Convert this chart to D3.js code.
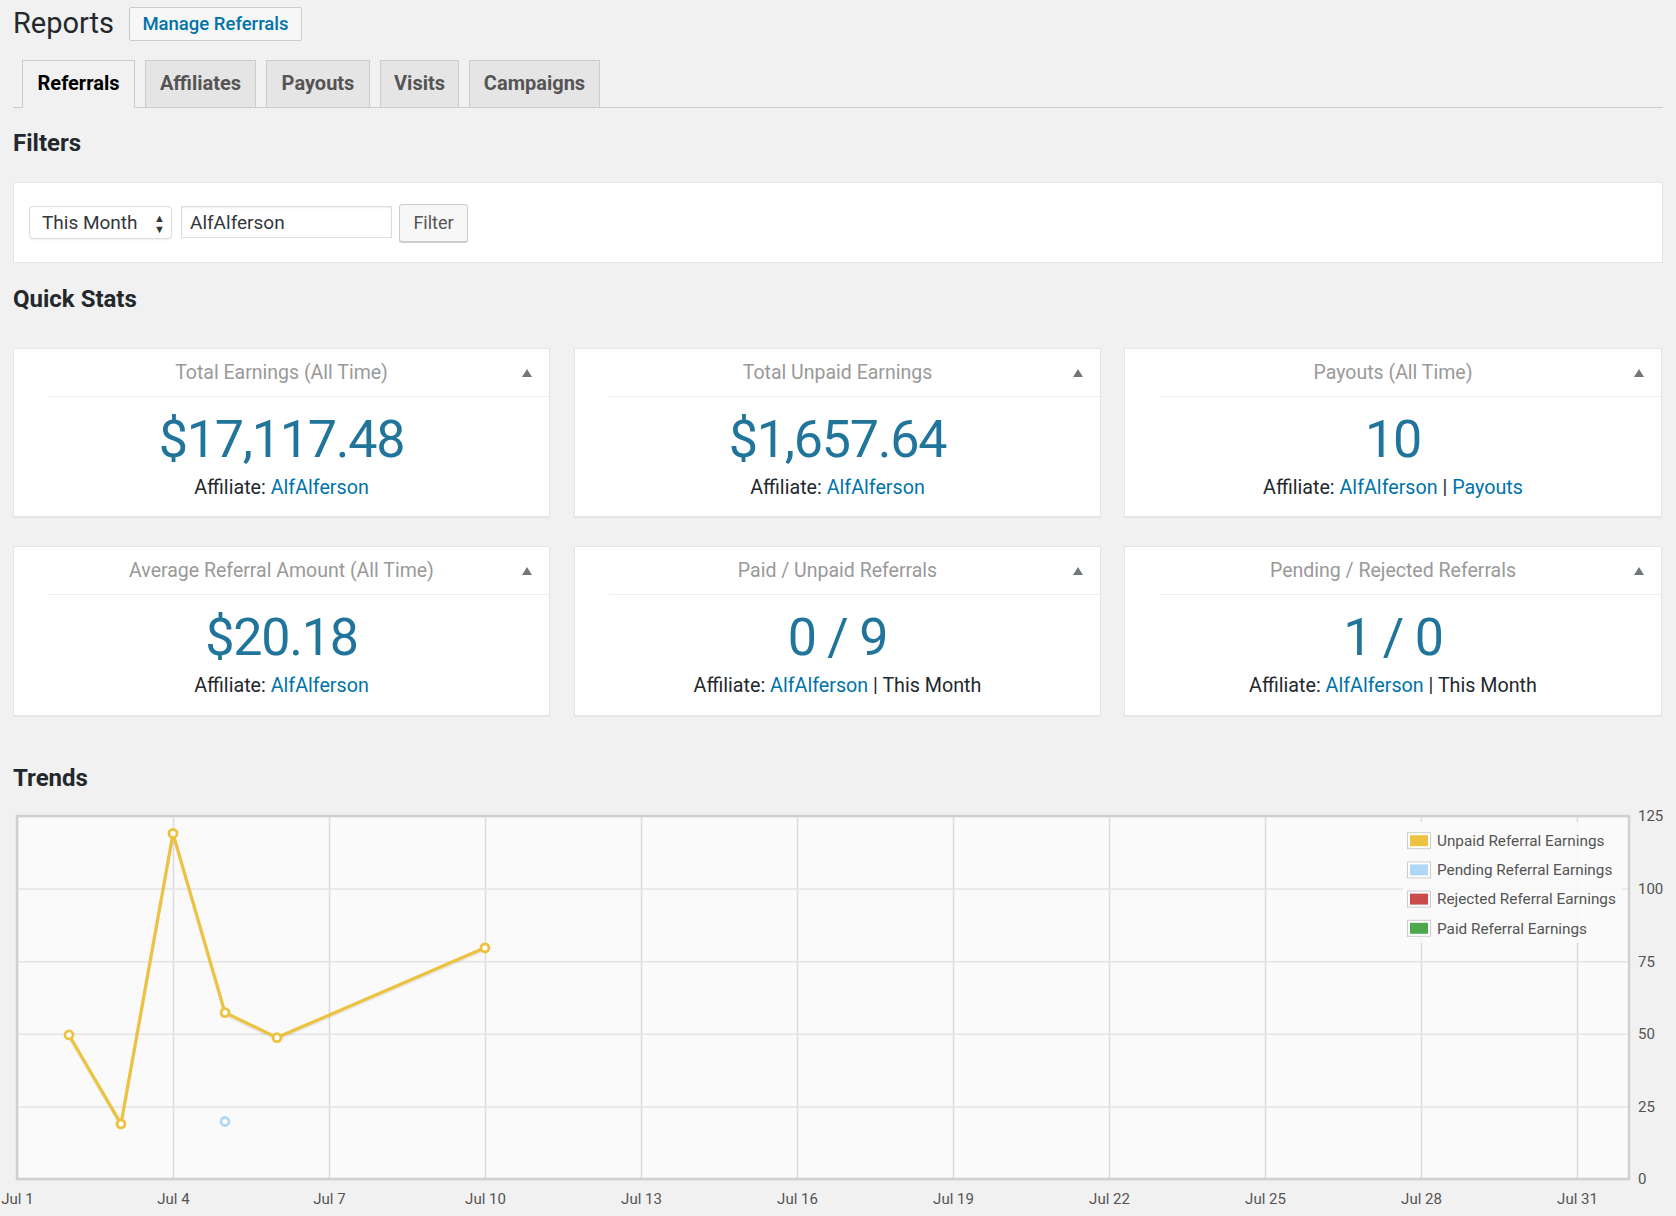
<!DOCTYPE html>
<html>
<head>
<meta charset="utf-8">
<script src="https://cdn.jsdelivr.net/npm/d3@7"></script>
<style>
  body { margin: 0; background: #f1f1f1; font-family: Roboto, "Noto Sans", sans-serif; color: #23282d; }
  #page { position: relative; width: 1676px; height: 1216px; overflow: hidden; }
  .abs { position: absolute; box-sizing: border-box; }
  .title { left: 13px; top: 6px; font-size: 29px; font-weight: 400; color: #23282d; }
  .manage { left: 129px; top: 7px; width: 173px; height: 34px; border: 1px solid #ccc; background: #f7f7f7;
            color: #0073aa; font-size: 18.5px; font-weight: 500; text-align: center; line-height: 32px; border-radius: 2px; }
  .tabline { left: 13px; top: 107px; width: 1650px; height: 1px; background: #ccc; }
  .tab { top: 60px; height: 48px; border: 1px solid #ccc; background: #e5e5e5; color: #555;
         font-size: 20px; font-weight: 700; text-align: center; line-height: 45px; }
  .tab.active { background: #f1f1f1; color: #000; border-bottom: 1px solid #f1f1f1; }
  .h2 { left: 13px; font-size: 24px; font-weight: 700; color: #23282d; }
  .filterbox { left: 13px; top: 182px; width: 1650px; height: 81px; background: #fff; border: 1px solid #e5e5e5; }
  .select { left: 29px; top: 206px; width: 143px; height: 33px; border: 1px solid #ddd; border-radius: 4px; background: #fff;
            font-size: 19px; line-height: 31px; padding-left: 12px; color: #32373c; box-shadow: 0 1px 2px rgba(0,0,0,.07); }
  .input { left: 181px; top: 206px; width: 211px; height: 32px; border: 1px solid #ddd; background: #fff;
           font-size: 19px; line-height: 31px; padding-left: 8px; color: #32373c; box-shadow: inset 0 1px 2px rgba(0,0,0,.07); }
  .button { left: 399px; top: 204px; width: 69px; height: 38px; border: 1px solid #ccc; border-radius: 3px; background: #f7f7f7;
            font-size: 18px; line-height: 36px; text-align: center; color: #555; box-shadow: 0 1px 0 #ccc; }
  .card { background: #fff; border: 1px solid #e5e5e5; box-shadow: 0 1px 1px rgba(0,0,0,.04); }
  .card .head { position: absolute; left: 34px; right: 0; top: 0; height: 47px; border-bottom: 1px solid #eee; }
  .card .ctitle { position: absolute; left: 0; right: 0; top: 12px; text-align: center; font-size: 19.5px; color: #999; }
  .card .arrow { position: absolute; right: 17px; top: 20px; width: 0; height: 0;
                 border-left: 5px solid transparent; border-right: 5px solid transparent; border-bottom: 8px solid #72777c; }
  .card .num { position: absolute; left: 0; right: 0; top: 60px; text-align: center; font-size: 52px; letter-spacing: -1.2px; color: #21759b; }
  .card .meta { position: absolute; left: 0; right: 0; top: 127px; text-align: center; font-size: 19.7px; color: #23282d; }
  .card a { color: #0073aa; text-decoration: none; }
</style>
</head>
<body>
<div id="page"></div>
<script>
// ---- data ----
const tabs = ["Referrals", "Affiliates", "Payouts", "Visits", "Campaigns"];
const tabLeft = [22, 145, 266, 380, 469];
const tabRight = [135, 256, 370, 459, 600];

const statTitles = ["Total Earnings (All Time)", "Total Unpaid Earnings", "Payouts (All Time)",
                    "Average Referral Amount (All Time)", "Paid / Unpaid Referrals", "Pending / Rejected Referrals"];
const statValues = ["$17,117.48", "$1,657.64", "10", "$20.18", "0 / 9", "1 / 0"];
const statExtra = [null, null, "Payouts", null, "This Month", "This Month"];
const statExtraLink = [false, false, true, false, false, false];
const affiliate = "AlfAlferson";

// trends (July, value in $)
const unpaidDays = [2, 3, 4, 5, 6, 10];
const unpaidEarnings = [49.6, 19.0, 119.0, 57.3, 48.7, 79.6];
const pendingDays = [5];
const pendingEarnings = [19.8];
const rejectedDays = [];
const rejectedEarnings = [];
const paidDays = [];
const paidEarnings = [];

const seriesNames = ["Unpaid Referral Earnings", "Pending Referral Earnings", "Rejected Referral Earnings", "Paid Referral Earnings"];
const seriesColors = ["#edc240", "#afd8f8", "#cb4b4b", "#4da74d"];
const yTicks = [0, 25, 50, 75, 100, 125];
const xTickDays = [1, 4, 7, 10, 13, 16, 19, 22, 25, 28, 31];

const page = d3.select("#page");
const div = (cls, style) => {
  const d = page.append("div").attr("class", "abs " + cls);
  if (style) Object.entries(style).forEach(([k, v]) => d.style(k, v));
  return d;
};

// ---- header ----
div("title").text("Reports");
div("manage").text("Manage Referrals");
div("tabline");
tabs.forEach((t, i) => {
  div("tab" + (i === 0 ? " active" : ""), { left: tabLeft[i] + "px", width: (tabRight[i] - tabLeft[i]) + "px" }).text(t);
});

div("h2", { top: "129px" }).text("Filters");
div("filterbox");
const sel = div("select").text("This Month");
sel.append("span").style("position", "absolute").style("right", "6px").style("top", "0px")
  .style("font-size", "11px").style("line-height", "11px").style("color", "#32373c")
  .html("&#9650;<br>&#9660;").style("padding-top", "6px");
div("input").text(affiliate);
div("button").text("Filter");

div("h2", { top: "285px" }).text("Quick Stats");

// ---- stat cards ----
const cardX = [[13, 550], [574, 1101], [1124, 1662]];
const cardY = [[348, 517], [546, 716]];
statTitles.forEach((t, i) => {
  const col = i % 3, row = Math.floor(i / 3);
  const c = div("card", {
    left: cardX[col][0] + "px", width: (cardX[col][1] - cardX[col][0]) + "px",
    top: cardY[row][0] + "px", height: (cardY[row][1] - cardY[row][0]) + "px"
  });
  c.append("div").attr("class", "head");
  c.append("div").attr("class", "ctitle").text(t);
  c.append("div").attr("class", "arrow");
  c.append("div").attr("class", "num").text(statValues[i]);
  const m = c.append("div").attr("class", "meta");
  m.append("span").text("Affiliate: ");
  m.append("a").text(affiliate);
  if (statExtra[i]) {
    m.append("span").text(" | ");
    if (statExtraLink[i]) m.append("a").text(statExtra[i]);
    else m.append("span").text(statExtra[i]);
  }
});

div("h2", { top: "764px" }).text("Trends");

// ---- trends chart ----
const svgTop = 790;
const svg = page.append("svg").attr("class", "abs")
  .style("left", "0px").style("top", svgTop + "px")
  .attr("width", 1676).attr("height", 1216 - svgTop);

const plot = { left: 17, right: 1629, top: 816 - svgTop, bottom: 1179 - svgTop };
const day = d => new Date(2017, 6, d);
const x = d3.scaleTime().domain([day(1), day(32)]).range([plot.left, plot.right]);
const y = d3.scaleLinear().domain([0, 125]).range([plot.bottom, plot.top]);

svg.append("rect").attr("x", plot.left).attr("y", plot.top)
  .attr("width", plot.right - plot.left).attr("height", plot.bottom - plot.top).attr("fill", "#fafafa");

// grid lines via axes
svg.append("g").attr("transform", `translate(0,${plot.bottom})`)
  .call(d3.axisBottom(x).tickValues(xTickDays.map(day)).tickSize(-(plot.bottom - plot.top)).tickFormat(""))
  .call(g => g.select(".domain").remove())
  .call(g => g.selectAll("line").attr("stroke", "#dcdcdc").attr("stroke-width", 1.5));
svg.append("g").attr("transform", `translate(${plot.left},0)`)
  .call(d3.axisLeft(y).tickValues(yTicks).tickSize(-(plot.right - plot.left)).tickFormat(""))
  .call(g => g.select(".domain").remove())
  .call(g => g.selectAll("line").attr("stroke", "#e3e3e3").attr("stroke-width", 1.5));

// tick labels
svg.append("g").attr("transform", `translate(0,${plot.bottom})`)
  .call(d3.axisBottom(x).tickValues(xTickDays.map(day)).tickSize(0).tickPadding(14).tickFormat(d3.timeFormat("%b %-d")))
  .call(g => g.select(".domain").remove())
  .call(g => g.selectAll("text").attr("fill", "#545454").style("font-size", "15px").style("font-family", "Roboto, sans-serif"));
svg.append("g").attr("transform", `translate(${plot.right},0)`)
  .call(d3.axisRight(y).tickValues(yTicks).tickSize(0).tickPadding(9))
  .call(g => g.select(".domain").remove())
  .call(g => g.selectAll("text").attr("fill", "#545454").style("font-size", "15px").style("font-family", "Roboto, sans-serif"));

// series
const series = [
  { days: unpaidDays, vals: unpaidEarnings },
  { days: pendingDays, vals: pendingEarnings },
  { days: rejectedDays, vals: rejectedEarnings },
  { days: paidDays, vals: paidEarnings }
];
const line = d3.line().x(d => x(day(d[0]))).y(d => y(d[1]));
series.forEach((s, i) => {
  const pts = s.days.map((d, j) => [d, s.vals[j]]);
  if (pts.length > 1) {
    svg.append("path").datum(pts).attr("d", line).attr("fill", "none")
      .attr("stroke", "rgba(0,0,0,0.07)").attr("stroke-width", 3).attr("transform", "translate(0,2)");
    svg.append("path").datum(pts).attr("d", line).attr("fill", "none")
      .attr("stroke", seriesColors[i]).attr("stroke-width", 3.2).attr("stroke-linejoin", "round");
  }
  svg.append("g").selectAll("circle").data(pts).join("circle")
    .attr("cx", d => x(day(d[0]))).attr("cy", d => y(d[1])).attr("r", 4)
    .attr("fill", "#fff").attr("stroke", seriesColors[i]).attr("stroke-width", 2.8);
});

// border
svg.append("rect").attr("x", plot.left).attr("y", plot.top)
  .attr("width", plot.right - plot.left).attr("height", plot.bottom - plot.top)
  .attr("fill", "none").attr("stroke", "#d0d0d0").attr("stroke-width", 2.5);

// legend
const lg = svg.append("g");
lg.append("rect").attr("x", 1403).attr("y", 822 - svgTop).attr("width", 219).attr("height", 121)
  .attr("fill", "#fafafa").attr("opacity", 0.9);
seriesNames.forEach((n, i) => {
  const cy = 840.7 - svgTop + i * 29.2;
  lg.append("rect").attr("x", 1407.5).attr("y", cy - 8).attr("width", 23).attr("height", 16)
    .attr("fill", "#fff").attr("stroke", "#ccc").attr("stroke-width", 1);
  lg.append("rect").attr("x", 1410).attr("y", cy - 5.5).attr("width", 18).attr("height", 11).attr("fill", seriesColors[i]);
  lg.append("text").attr("x", 1437).attr("y", cy).attr("dy", "0.35em").attr("fill", "#545454")
    .style("font-size", "15.3px").text(n);
});
</script>
</body>
</html>
